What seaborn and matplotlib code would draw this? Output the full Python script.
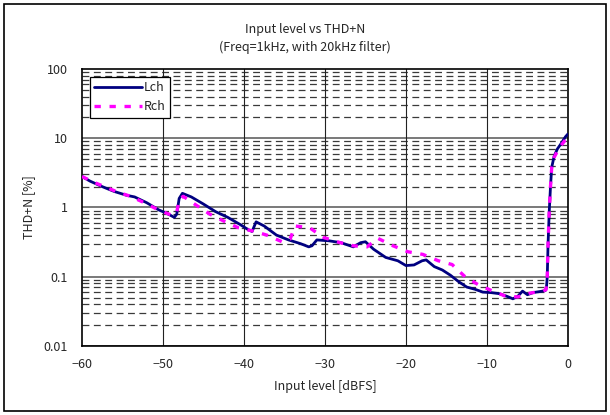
import matplotlib
matplotlib.use('Agg')
import matplotlib.pyplot as plt
import matplotlib.ticker as mticker
from matplotlib.patches import Rectangle
import seaborn as sns
import pandas as pd
import numpy as np

lch_level = [-60, -59, -57.5, -56, -54.5, -53.5, -52, -50.5, -49.5, -48.6, -48.3, -48.0,
             -47.6, -46.5, -45, -43.5, -42, -40.5, -39.5, -39.0, -38.5, -37.5, -36,
             -34.5, -33, -32, -31.6, -31.0, -29.5, -28, -26.5, -25.6, -25.0, -24, -22.5,
             -21, -20, -19, -18, -17.5, -16.5, -15.5, -14.5, -13.5, -12.5, -11.5, -10.5,
             -9.5, -8.5, -7.5, -6.8, -6.2, -5.6, -5.0, -4.3, -3.5, -2.8, -2.65, -2.55,
             -2.45, -2.3, -2.15, -2.0, -1.7, -1.3, -0.8, -0.3, 0]
lch_thd = [2.8, 2.4, 2.0, 1.7, 1.5, 1.42, 1.17, 0.92, 0.82, 0.72, 0.8, 1.35,
           1.6, 1.42, 1.12, 0.87, 0.72, 0.57, 0.48, 0.45, 0.62, 0.54, 0.40,
           0.34, 0.30, 0.27, 0.28, 0.34, 0.33, 0.31, 0.27, 0.31, 0.32, 0.25, 0.19,
           0.17, 0.145, 0.148, 0.17, 0.175, 0.14, 0.125, 0.105, 0.085, 0.071, 0.066, 0.060,
           0.059, 0.057, 0.052, 0.048, 0.052, 0.062, 0.055, 0.059, 0.061, 0.063, 0.07, 0.1,
           0.3, 0.9, 2.0, 3.8, 5.5, 7.0, 8.5, 10.5, 11.5]

rch_level = [-60, -58.5, -57, -55.5, -54, -52.5, -51, -49.5, -48.8, -48.3, -48.0, -47.5,
             -46, -44.2, -42.3, -40.7, -39, -37.2, -35.3, -34.3, -33.7, -31.9, -30.2,
             -28.1, -26.5, -24.8, -23.5, -21.6, -19.8, -17.9, -16, -14.3, -12.7, -11.1,
             -9.4, -7.8, -6.2, -4.7, -3.1, -2.7, -2.55, -2.45, -2.3, -2.15, -2.0, -1.7,
             -1.3, -0.8, -0.3, 0]
rch_thd = [2.8, 2.3, 1.95, 1.65, 1.45, 1.2, 0.98, 0.82, 0.77, 0.85, 1.3, 1.45,
           1.1, 0.8, 0.62, 0.51, 0.46, 0.40, 0.32, 0.35, 0.54, 0.51, 0.37,
           0.31, 0.28, 0.27, 0.36, 0.28, 0.23, 0.21, 0.17, 0.15, 0.10, 0.077,
           0.063, 0.053, 0.051, 0.058, 0.062, 0.065, 0.1, 0.3, 0.9, 2.0, 3.8, 5.3,
           6.5, 8.0, 9.5, 10.0]

x_ticks = [-60, -50, -40, -30, -20, -10, 0]
y_ticks = [0.01, 0.1, 1, 10, 100]
y_labels = ['0.01', '0.1', '1', '10', '100']

sns.set_style('white')
plt.rcParams['font.family'] = ['Noto Sans CJK JP', 'DejaVu Sans']
plt.rcParams['font.size'] = 9

fig = plt.figure(figsize=(6.10, 4.15), dpi=100)
ax = fig.add_axes([0.1344, 0.1663, 0.7966, 0.6675])

ax.set_yscale('log')
ax.set_xlim(-60, 0)
ax.set_ylim(0.01, 100)

# grid: solid decades, dashed sub-decades, solid verticals
for dec in [0.01, 0.1, 1, 10]:
    for m in range(2, 10):
        ax.axhline(dec * m, color='#3a3a3a', lw=0.9, dashes=(5.5, 3.6), zorder=1)
    ax.axhline(dec, color='#555555', lw=1.1, zorder=1)
for xv in x_ticks[1:-1]:
    ax.axvline(xv, color='#222222', lw=0.8, zorder=1)

lch = pd.DataFrame({'level': lch_level, 'thd': lch_thd})
rch = pd.DataFrame({'level': rch_level, 'thd': rch_thd})
sns.lineplot(data=lch, x='level', y='thd', ax=ax, color='#000080', lw=2.0,
             estimator=None, label='Lch', zorder=3)
sns.lineplot(data=rch, x='level', y='thd', ax=ax, color='#FF00FF', lw=2.4,
             linestyle=(0, (1.9, 2.6)), estimator=None, label='Rch', zorder=4)

ax.set_xticks(x_ticks)
ax.set_xticklabels([str(v).replace('-', '\u2212') for v in x_ticks])
ax.set_yticks(y_ticks)
ax.set_yticklabels(y_labels)
ax.yaxis.set_minor_locator(mticker.NullLocator())
ax.tick_params(axis='y', length=0, pad=10, labelsize=9)
ax.tick_params(axis='x', length=0, pad=9, labelsize=9)

for s in ax.spines.values():
    s.set_color('black')
    s.set_linewidth(1.2)

ax.set_xlabel('Input level [dBFS]', fontsize=9, labelpad=6)
ax.set_ylabel('THD+N [%]', fontsize=9, labelpad=6)

fig.text(0.5, 0.93, 'Input level vs THD+N', ha='center', va='center', fontsize=9)
fig.text(0.5, 0.887, '(Freq=1kHz, with 20kHz filter)', ha='center', va='center', fontsize=9)

leg = ax.legend(loc='upper left', bbox_to_anchor=(0.016, 0.972), fancybox=False,
                edgecolor='black', framealpha=1, handlelength=3.8, handletextpad=0.2,
                borderpad=0.35, labelspacing=0.5, fontsize=9, borderaxespad=0)
leg.get_frame().set_linewidth(0.9)

fig.patches.append(Rectangle((0.007, 0.01), 0.986, 0.98, transform=fig.transFigure,
                             fill=False, edgecolor='black', lw=1.2))

plt.savefig('out.png', dpi=100)
